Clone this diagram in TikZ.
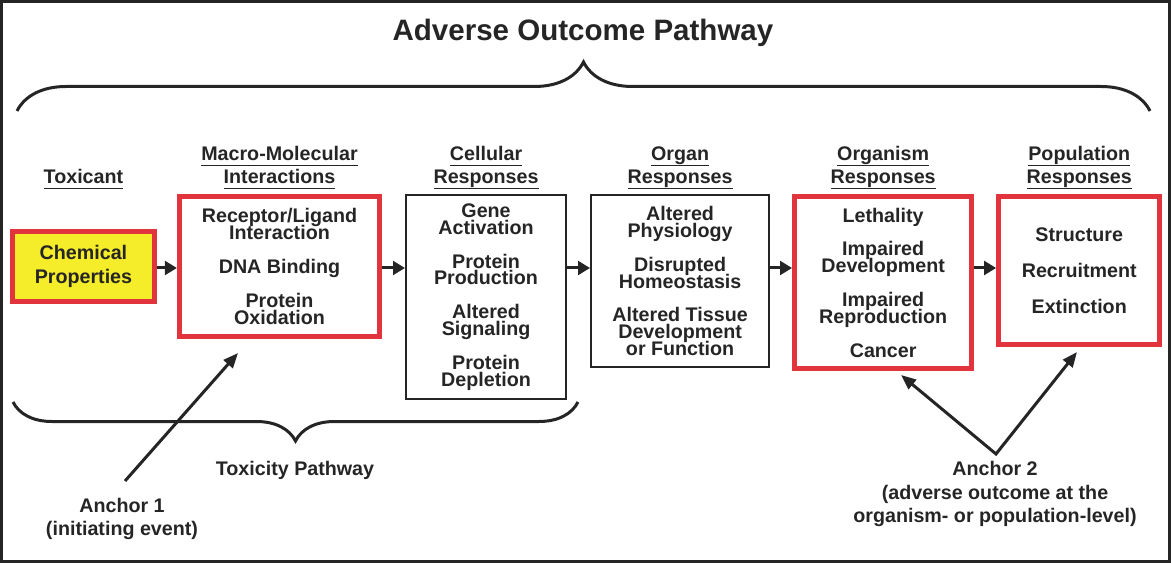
\documentclass[tikz,border=0pt]{standalone}
\usepackage{fontspec}
\setmainfont{Liberation Sans}
\usetikzlibrary{positioning,arrows.meta,decorations.pathreplacing}
\definecolor{aopred}{HTML}{E2343C}
\definecolor{aopyellow}{HTML}{F5EC2A}
\definecolor{aopink}{HTML}{252525}
\newcommand{\hdr}[1]{\setbox0\hbox{#1}\rlap{\rule[-4pt]{\wd0}{0.8pt}}\box0}
\newcommand{\boxfont}{\bfseries\fontsize{14}{12}\selectfont\lineskiplimit=-\maxdimen\relax}

\begin{document}
\begin{tikzpicture}[x=0.025cm, y=-0.025cm,
   boxtext/.style={font=\boxfont, align=center, text=aopink, inner sep=0pt},
   redbox/.style={boxtext, draw=aopred, line width=0.125cm},
   blackbox/.style={boxtext, draw=aopink, line width=0.05cm},
   header/.style={font=\bfseries\fontsize{14}{16.4}\selectfont, align=center, text=aopink},
   note/.style={font=\bfseries\fontsize{14}{16.8}\selectfont, align=center, text=aopink},
   flow/.style={-{Triangle[length=0.3cm,width=0.34cm]}, line width=0.075cm, aopink},
   pointer/.style={line width=0.075cm, draw=aopink, line join=miter},
   bracket/.style={decorate, line width=0.075cm, draw=aopink}]
   \useasboundingbox (0,0) rectangle (1171,563);
   \draw[aopink, line width=0.075cm] (1.5,1.5) rectangle (1169.5,561.5);

   \node[font=\bfseries\fontsize{21}{24}\selectfont, text=aopink] (title) at (583,33) {Adverse Outcome Pathway};

   % boxes
   \node[redbox, minimum width=5cm, minimum height=3.5cm] (macro) at (279.5,266.5)
   {Receptor/Ligand\\Interaction\\[12pt]DNA Binding\\[12pt]Protein\\Oxidation};
   \node[redbox, fill=aopyellow, minimum width=3.55cm, minimum height=1.75cm] (chem) [left=0.5cm of macro]
   {Chemical\\[5pt]Properties};
   \node[blackbox, minimum width=4cm, minimum height=5.1cm] (cell) [right=0.575cm of macro.north east, anchor=north west]
   {Gene\\Activation\\[12pt]Protein\\Production\\[12pt]Altered\\Signaling\\[12pt]Protein\\Depletion};
   \node[blackbox, minimum width=4.45cm, minimum height=4.3cm] (organ) [right=0.575cm of cell.north east, anchor=north west]
   {Altered\\Physiology\\[12pt]Disrupted\\Homeostasis\\[12pt]Altered Tissue\\Development\\or Function};
   \node[redbox, minimum width=4.425cm, minimum height=4.3cm] (organism) [right=0.55cm of organ.north east, anchor=north west]
   {Lethality\\[12pt]Impaired\\Development\\[12pt]Impaired\\Reproduction\\[12pt]Cancer};
   \node[redbox, minimum width=4.025cm, minimum height=3.7cm] (pop) [right=0.55cm of organism.north east, anchor=north west]
   {Structure\\[13.5pt]Recruitment\\[13.5pt]Extinction};

   % column headers
   \node[header, anchor=south] (toxhead) at (chem.north |- macro.north) {\hdr{Toxicant}};
   \node[header] (macrohead) [above=0pt of macro] {\hdr{Macro-Molecular}\\\hdr{Interactions}};
   \node[header] (cellhead) [above=0pt of cell] {\hdr{Cellular}\\\hdr{Responses}};
   \node[header] (organhead) [above=0pt of organ] {\hdr{Organ}\\\hdr{Responses}};
   \node[header] (organismhead) [above=0pt of organism] {\hdr{Organism}\\\hdr{Responses}};
   \node[header] (pophead) [above=0pt of pop] {\hdr{Population}\\\hdr{Responses}};

   \coordinate (flowrow) at (0,268);
   \path[flow]
     (chem.east |- flowrow) edge (macro.west |- flowrow)
     (macro.east |- flowrow) edge (cell.west |- flowrow)
     (cell.east |- flowrow) edge (organ.west |- flowrow)
     (organ.east |- flowrow) edge (organism.west |- flowrow)
     (organism.east |- flowrow) edge (pop.west |- flowrow)
     ;

   % braces
   \draw[bracket, decoration={brace, amplitude=1.225cm}] (17,111) -- (1150,111);
   \draw[bracket, decoration={brace, mirror, amplitude=0.975cm}] (13,402) -- (578,402);
   \node[note] (toxpath) at (295,470) {Toxicity Pathway};

   % anchors
   \node[note] (anchorone) at (122,519) {Anchor 1\\(initiating event)};
   \node[note] (anchortwo) at (995,494) {Anchor 2\\(adverse outcome at the\\organism- or population-level)};
   \coordinate (a1tail) at (125,481);
   \coordinate (a1tip) at (238,353);
   \coordinate (a2apex) at (996,454);
   \coordinate (a2left) at (901,375);
   \coordinate (a2right) at (1077,352);
   \draw[pointer, -{Triangle[length=0.375cm,width=0.3cm]}] (a1tail) -- (a1tip);
   \draw[pointer, {Triangle[length=0.375cm,width=0.3cm]}-{Triangle[length=0.375cm,width=0.3cm]}]
     (a2left) -- (a2apex) -- (a2right);
\end{tikzpicture}
\end{document}
